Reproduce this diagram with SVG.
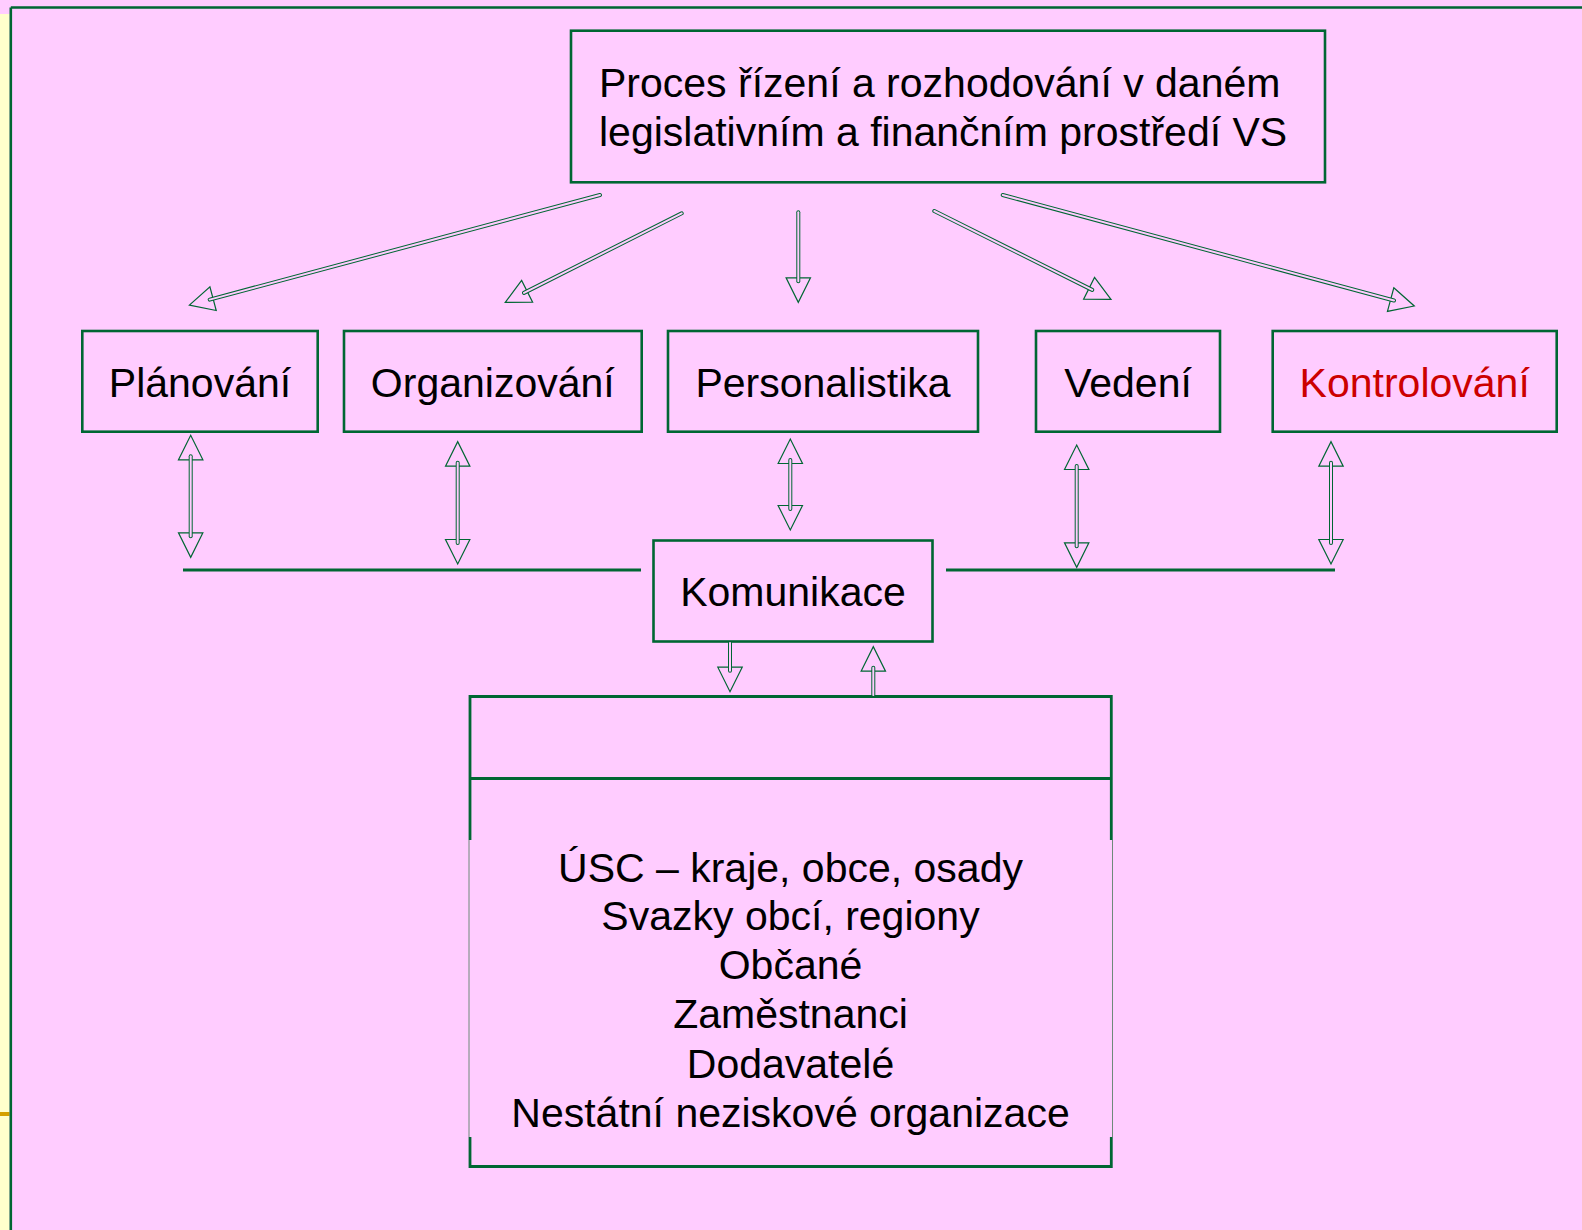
<svg xmlns="http://www.w3.org/2000/svg" width="1582" height="1230" viewBox="0 0 1582 1230">
<style>
.box{fill:none;stroke:#006633;stroke-width:2.6}
.t{font-family:"Liberation Sans",Arial,sans-serif;font-size:41px;fill:#000}
.c{text-anchor:middle}
.red{fill:#CC0000}
.ln{stroke:#006633;stroke-width:2.8;fill:none}
.thin{stroke:#6E8A7A;stroke-width:1;fill:none}
.o{fill:none;stroke:#006633;stroke-width:4;stroke-linecap:round;marker-end:url(#ah)}
.o.both{marker-start:url(#ahs)}
.i{fill:none;stroke:#FFCCFF;stroke-width:2;stroke-linecap:round}
</style>
<defs>
<marker id="ah" markerUnits="userSpaceOnUse" orient="auto" refX="0" refY="0" markerWidth="30" markerHeight="30" overflow="visible">
<polygon points="-3.5,-12.2 21,0 -3.5,12.2" fill="none" stroke="#006633" stroke-width="1.2" stroke-linejoin="miter"/>
</marker>
<marker id="ahs" markerUnits="userSpaceOnUse" orient="auto-start-reverse" refX="0" refY="0" markerWidth="30" markerHeight="30" overflow="visible">
<polygon points="-3.5,-12.2 21,0 -3.5,12.2" fill="none" stroke="#006633" stroke-width="1.2" stroke-linejoin="miter"/>
</marker>
</defs>
<rect x="0" y="0" width="1582" height="1230" fill="#FFCCFF"/>
<rect x="0" y="14" width="9.5" height="1216" fill="#FFFFCC"/>
<rect x="0" y="1112" width="9.5" height="4" fill="#D4A000"/>
<path d="M10.8 7.5 H1582 M10.8 7.5 V1230" stroke="#006633" stroke-width="2.6" fill="none"/>

<g id="proces">
<rect class="box" x="571" y="30.7" width="754" height="151.6"/>
<text class="t" x="599" y="97.3">Proces řízení a rozhodování v daném</text>
<text class="t" x="599" y="146">legislativním a finančním prostředí VS</text>
</g>
<g id="planovani">
<rect class="box" x="82.3" y="331" width="235.4" height="100.7"/>
<text class="t c" x="200" y="396.7">Plánování</text>
</g>
<g id="organizovani">
<rect class="box" x="344" y="331" width="297.7" height="100.7"/>
<text class="t c" x="492.8" y="396.7">Organizování</text>
</g>
<g id="personalistika">
<rect class="box" x="668" y="331" width="310" height="100.7"/>
<text class="t c" x="823" y="396.7">Personalistika</text>
</g>
<g id="vedeni">
<rect class="box" x="1036" y="331" width="184" height="100.7"/>
<text class="t c" x="1128" y="396.7">Vedení</text>
</g>
<g id="kontrolovani">
<rect class="box" x="1272.7" y="331" width="284" height="100.7"/>
<text class="t c red" x="1414.7" y="396.7">Kontrolování</text>
</g>
<g id="komunikace">
<rect class="box" x="653.5" y="540.5" width="279" height="101"/>
<text class="t c" x="793" y="605.5">Komunikace</text>
</g>
<g id="subjekty">
<path class="ln" d="M470 840 V696.5 H1111.3 V840 M470 778.5 H1111.3 M470 1137 V1166.5 H1111.3 V1137"/>
<path class="thin" d="M469 840 V1137 M1112.5 840 V1137"/>
<text class="t c" x="790.5" y="881.5">ÚSC – kraje, obce, osady</text>
<text class="t c" x="790.5" y="930.3">Svazky obcí, regiony</text>
<text class="t c" x="790.5" y="979">Občané</text>
<text class="t c" x="790.5" y="1028">Zaměstnanci</text>
<text class="t c" x="790.5" y="1077.5">Dodavatelé</text>
<text class="t c" x="790.5" y="1126.5">Nestátní neziskové organizace</text>
</g>

<g id="connectors">
<path class="ln" d="M183 570 H641 M946 570 H1335"/>
<path class="o" d="M600 195 L209.7 299.6"/><path class="i" d="M600 195 L209.7 299.6"/>
<path class="o" d="M681.7 213.3 L524 292.9"/><path class="i" d="M681.7 213.3 L524 292.9"/>
<path class="o" d="M798.3 212.3 L798.3 281.3"/><path class="i" d="M798.3 212.3 L798.3 281.3"/>
<path class="o" d="M934.3 211 L1092.2 289.9"/><path class="i" d="M934.3 211 L1092.2 289.9"/>
<path class="o" d="M1002.7 195 L1394 300.5"/><path class="i" d="M1002.7 195 L1394 300.5"/>
<path class="o both" d="M190.7 456.3 V536.3"/><path class="i" d="M190.7 456.3 V536.3"/>
<path class="o both" d="M457.7 462.7 V543"/><path class="i" d="M457.7 462.7 V543"/>
<path class="o both" d="M790.3 460 V509"/><path class="i" d="M790.3 460 V509"/>
<path class="o both" d="M1076.7 466 V546.3"/><path class="i" d="M1076.7 466 V546.3"/>
<path class="o both" d="M1331 462.7 V543"/><path class="i" d="M1331 462.7 V543"/>
<path class="o" d="M730 643 V670.7"/><path class="i" d="M730 643 V670.7"/>
<path class="o" d="M873.3 695 V667.7"/><path class="i" d="M873.3 695 V667.7"/>
</g>
</svg>
